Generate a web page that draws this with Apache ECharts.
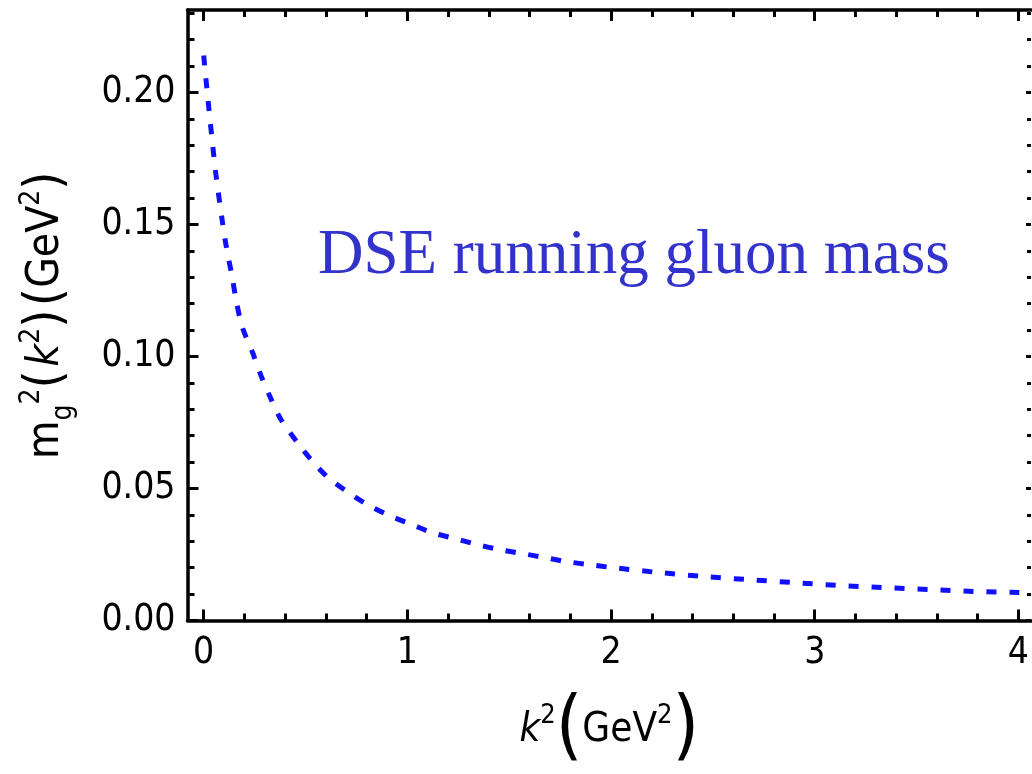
<!DOCTYPE html>
<html>
<head>
<meta charset="utf-8">
<script src="https://cdn.jsdelivr.net/npm/echarts@6/dist/echarts.min.js"></script>
<style>
  html, body { margin: 0; padding: 0; background: #fff; }
  #chart { width: 1032px; height: 774px; }
</style>
</head>
<body>
<div id="chart"></div>
<script>
// k^2 (GeV^2) and running gluon mass m_g^2 (GeV^2)
const kVals = [0, 0.02, 0.04, 0.06, 0.09, 0.11, 0.14, 0.16, 0.19, 0.24, 0.28, 0.33, 0.38,
  0.46, 0.53, 0.61, 0.71, 0.81, 0.91, 1.02, 1.12, 1.23, 1.34, 1.45, 1.56, 1.67, 1.78,
  1.89, 2.0, 2.23, 2.45, 2.67, 2.89, 3.11, 3.33, 3.56, 3.78, 4.0, 4.09];
const mVals = [0.214, 0.198, 0.183, 0.169, 0.152, 0.142, 0.13, 0.121, 0.111, 0.1015, 0.093,
  0.084, 0.076, 0.0674, 0.0606, 0.0542, 0.0485, 0.0436, 0.0398, 0.0364, 0.0333, 0.0311,
  0.0288, 0.0269, 0.0254, 0.0239, 0.0223, 0.0212, 0.0201, 0.0182, 0.0167, 0.0155, 0.0144,
  0.0133, 0.0125, 0.0117, 0.011, 0.0106, 0.0104];

const xTicks = [0, 1, 2, 3, 4];
const yTicks = [0, 0.05, 0.1, 0.15, 0.2];
const xMinor = [];
for (let v = 0.2; v < 4.05; v += 0.2) {
  if (Math.abs(v - Math.round(v)) > 0.01) xMinor.push(+v.toFixed(2));
}
const yMinor = [];
for (let v = 0.01; v < 0.235; v += 0.01) {
  if (Math.abs(v / 0.05 - Math.round(v / 0.05)) > 0.01) yMinor.push(+v.toFixed(3));
}

const font = '"DejaVu Sans Condensed", "Liberation Sans Narrow", "Liberation Sans", sans-serif';
const xMin = -0.0795, xMax = 4.062, yMin = 0, yMax = 0.2312;
const frame = { show: true, onZero: false, lineStyle: { color: "#000", width: 3.5 } };

const chart = echarts.init(document.getElementById("chart"));

function xAx(pos, values, len, labels, line) {
  return {
    type: "value", position: pos, min: xMin, max: xMax,
    axisLine: line ? frame : { show: false, onZero: false },
    splitLine: { show: false },
    axisTick: { show: true, inside: true, length: len, customValues: values,
      lineStyle: { color: "#000", width: 3 } },
    axisLabel: labels
      ? { show: true, customValues: values, margin: 14, color: "#000",
          fontFamily: font, fontSize: 37 }
      : { show: false }
  };
}
function yAx(pos, values, len, labels, line) {
  return {
    type: "value", position: pos, min: yMin, max: yMax,
    axisLine: line ? frame : { show: false, onZero: false },
    splitLine: { show: false },
    axisTick: { show: true, inside: true, length: len, customValues: values,
      lineStyle: { color: "#000", width: 3 } },
    axisLabel: labels
      ? { show: true, customValues: values, margin: 12, color: "#000",
          fontFamily: font, fontSize: 37, formatter: v => v.toFixed(2) }
      : { show: false }
  };
}

const xAxes = [
  xAx("bottom", xTicks, 11, true, true),
  xAx("bottom", xMinor, 7, false, false),
  xAx("top", xTicks, 11, false, true),
  xAx("top", xMinor, 7, false, false)
];
xAxes[0].name = "{i|k}{sup|2}{p|(}{n|GeV}{sup|2}{p|)}";
xAxes[0].nameLocation = "middle";
xAxes[0].nameGap = 72;
xAxes[0].nameTextStyle = {
  color: "#000", fontFamily: font,
  rich: {
    i: { fontStyle: "italic", fontSize: 40, fontFamily: font, lineHeight: 76, verticalAlign: "middle" },
    n: { fontSize: 40, fontFamily: font, lineHeight: 76, verticalAlign: "middle" },
    sup: { fontSize: 27, fontFamily: font, lineHeight: 76, verticalAlign: "top", padding: [10, 0, 0, 0] },
    p: { fontSize: 76, fontFamily: font, fontWeight: "lighter", lineHeight: 76, verticalAlign: "middle" }
  }
};

const yAxes = [
  yAx("left", yTicks, 11, true, true),
  yAx("left", yMinor, 7, false, false),
  yAx("right", yTicks, 5, false, false),
  yAx("right", yMinor, 4, false, false)
];
yAxes[0].name = "{n|m}{sub|g}{sup|2}{p|(} {i|k}{sup|2}{p|)} {p|(}{n|GeV}{sup|2}{p|)}";
yAxes[0].nameLocation = "middle";
yAxes[0].nameGap = 110;
yAxes[0].nameRotate = 90;
yAxes[0].nameTextStyle = {
  color: "#000", fontFamily: font,
  rich: {
    i: { fontStyle: "italic", fontSize: 44, fontFamily: font, lineHeight: 62, verticalAlign: "middle" },
    n: { fontSize: 44, fontFamily: font, lineHeight: 62, verticalAlign: "middle" },
    sup: { fontSize: 28, fontFamily: font, lineHeight: 62, verticalAlign: "top", padding: [2, 0, 0, 0] },
    sub: { fontSize: 28, fontFamily: font, lineHeight: 62, verticalAlign: "bottom" },
    p: { fontSize: 52, fontFamily: font, lineHeight: 62, verticalAlign: "middle" }
  }
};

const option = {
  animation: false,
  backgroundColor: "#fff",
  grid: {
    show: false,
    left: 187.5,
    top: 10,
    right: 0,
    bottom: 153.5,
    containLabel: false
  },
  xAxis: xAxes,
  yAxis: yAxes,
  graphic: [
    {
      type: "text",
      left: 318,
      top: 225,
      style: {
        text: "DSE running gluon mass",
        fill: "#3333cc",
        font: '63px "Liberation Serif", "Times New Roman", serif'
      }
    }
  ],
  series: [
    {
      type: "line",
      xAxisIndex: 0,
      yAxisIndex: 0,
      data: kVals.map((k, i) => [k, mVals[i]]),
      showSymbol: false,
      smooth: 0.3,
      clip: true,
      lineStyle: { color: "#1010ff", width: 5, type: [10, 13] }
    }
  ]
};
chart.setOption(option);
</script>
</body>
</html>
